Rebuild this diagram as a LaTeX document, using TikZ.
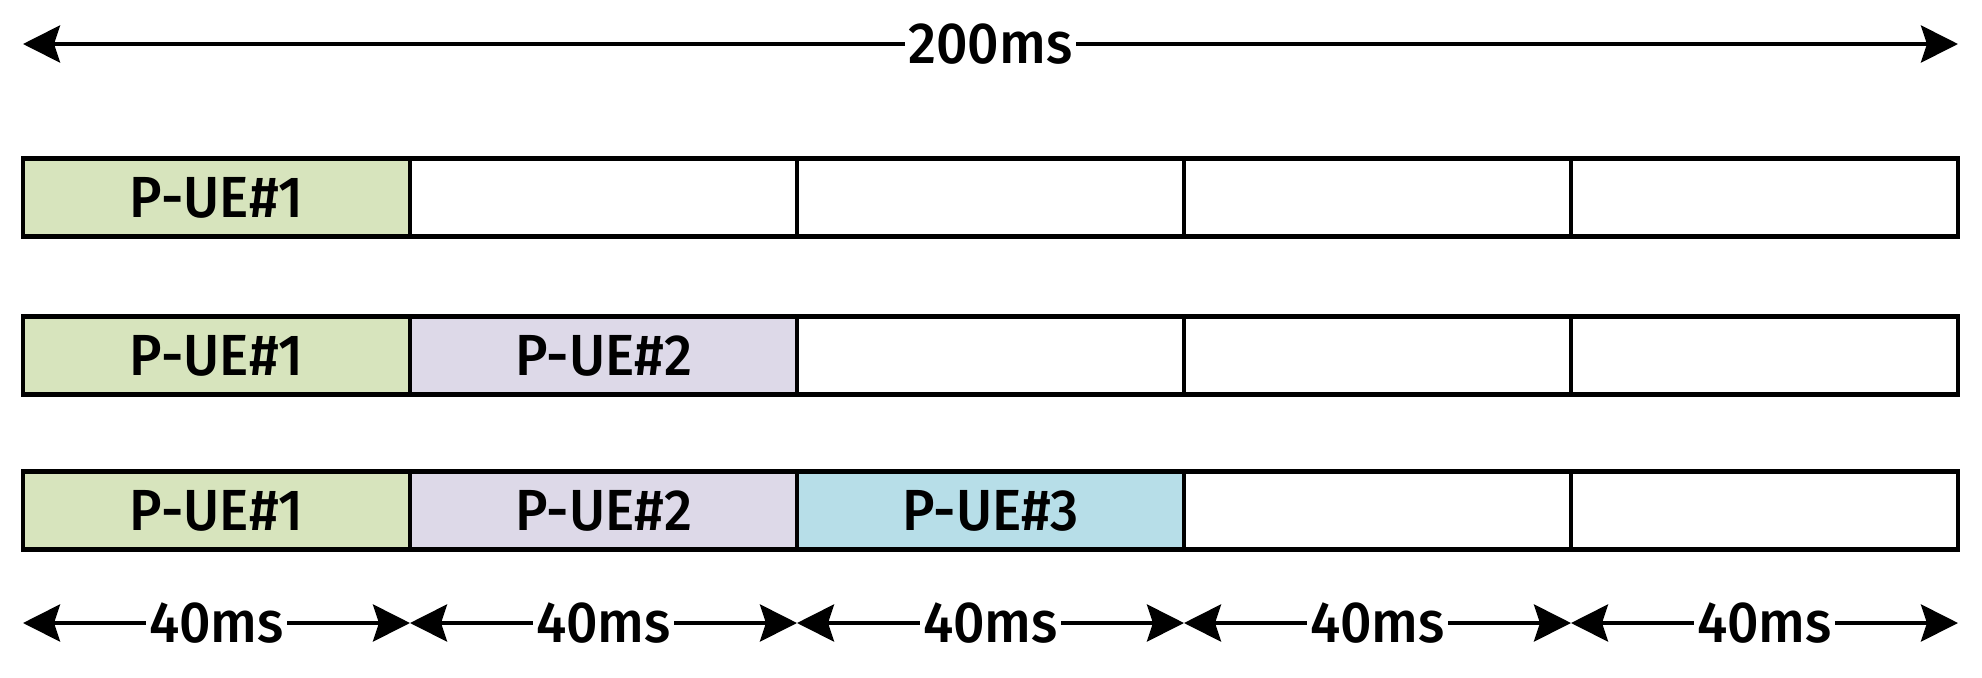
\documentclass[tikz,border=0pt]{standalone}
\usepackage{fontspec}
\setmainfont{Fira Sans}[UprightFont=* Medium, FakeStretch=0.95]
\usepackage{tikz}
\usetikzlibrary{arrows.meta}
\usetikzlibrary{positioning}
\definecolor{slotgreen}{RGB}{215,228,189}
\definecolor{slotpurple}{RGB}{221,217,232}
\definecolor{slotblue}{RGB}{183,222,232}

\begin{document}
\begin{tikzpicture}[
        slot/.style={draw, line width=1.2pt, minimum width=3.87cm, minimum height=0.78cm, inner sep=0pt, font=\fontsize{16.5}{19}\selectfont},
        span/.style={{Stealth[length=3.7mm,width=3.7mm,inset=0.6mm]}-{Stealth[length=3.7mm,width=3.7mm,inset=0.6mm]}, line width=1.2pt},
        lbl/.style={fill=white, inner sep=1pt, font=\fontsize{16.5}{19}\selectfont}
    ]
        \useasboundingbox (0,0) rectangle (19.82,6.77);

        % first period
        \node[slot, fill=slotgreen]  (a1) at (2.165,4.795)  {P-UE\#1};
        \node[slot]                  (a2) at (6.035,4.795)  {};
        \node[slot]                  (a3) at (9.905,4.795)  {};
        \node[slot]                  (a4) at (13.775,4.795) {};
        \node[slot]                  (a5) at (17.645,4.795) {};

        % second period
        \node[slot, fill=slotgreen]  (b1) at (2.165,3.215)  {P-UE\#1};
        \node[slot, fill=slotpurple] (b2) at (6.035,3.215)  {P-UE\#2};
        \node[slot]                  (b3) at (9.905,3.215)  {};
        \node[slot]                  (b4) at (13.775,3.215) {};
        \node[slot]                  (b5) at (17.645,3.215) {};

        % third period
        \node[slot, fill=slotgreen]  (c1) at (2.165,1.665)  {P-UE\#1};
        \node[slot, fill=slotpurple] (c2) at (6.035,1.665)  {P-UE\#2};
        \node[slot, fill=slotblue]   (c3) at (9.905,1.665)  {P-UE\#3};
        \node[slot]                  (c4) at (13.775,1.665) {};
        \node[slot]                  (c5) at (17.645,1.665) {};

        \coordinate (top0) at (0.23,6.33);
        \coordinate (top1) at (19.58,6.33);
        \coordinate (t0) at (0.23,0.54);
        \coordinate (t1) at (4.10,0.54);
        \coordinate (t2) at (7.97,0.54);
        \coordinate (t3) at (11.84,0.54);
        \coordinate (t4) at (15.71,0.54);
        \coordinate (t5) at (19.58,0.54);

        \draw[span] (top0) -- node[lbl] {200ms} (top1);
        \draw[span] (t0) -- node[lbl] {40ms} (t1);
        \draw[span] (t1) -- node[lbl] {40ms} (t2);
        \draw[span] (t2) -- node[lbl] {40ms} (t3);
        \draw[span] (t3) -- node[lbl] {40ms} (t4);
        \draw[span] (t4) -- node[lbl] {40ms} (t5);
    \end{tikzpicture}
\end{document}
